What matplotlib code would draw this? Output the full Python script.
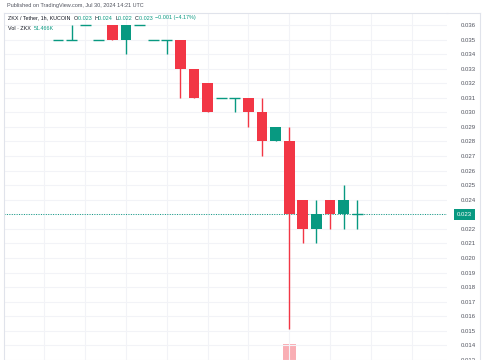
import matplotlib
matplotlib.use('Agg')
import matplotlib.pyplot as plt
from matplotlib.lines import Line2D
import numpy as np

plt.rcParams['font.family'] = ['Liberation Sans', 'DejaVu Sans']

# === Data (ZKX / Tether, 1h, KUCOIN) ===
opens  = [0.035, 0.035, 0.036, 0.035, 0.036, 0.035, 0.036, 0.035, 0.035, 0.035, 0.033, 0.032,
          0.031, 0.031, 0.031, 0.030, 0.028, 0.028, 0.024, 0.022, 0.024, 0.023, 0.023]
highs  = [0.035, 0.036, 0.036, 0.035, 0.036, 0.036, 0.036, 0.035, 0.035, 0.035, 0.033, 0.032,
          0.031, 0.031, 0.031, 0.031, 0.029, 0.029, 0.024, 0.024, 0.024, 0.025, 0.024]
lows   = [0.035, 0.035, 0.036, 0.035, 0.035, 0.034, 0.036, 0.035, 0.034, 0.031, 0.031, 0.030,
          0.031, 0.030, 0.029, 0.027, 0.028, 0.0151, 0.021, 0.021, 0.022, 0.022, 0.022]
closes = [0.035, 0.035, 0.036, 0.035, 0.035, 0.036, 0.036, 0.035, 0.035, 0.033, 0.031, 0.030,
          0.031, 0.031, 0.030, 0.028, 0.029, 0.023, 0.022, 0.023, 0.023, 0.024, 0.023]
volumes = [0, 0, 0, 0, 0, 0, 0, 0, 0, 0, 0, 0,
           0, 0, 0, 0, 0, 2400000, 0, 0, 0, 0, 51466]
price_ticks = [round(0.013 + 0.001 * i, 3) for i in range(24)]
last_price = 0.023

UP = '#089981'
DOWN = '#f23645'
GRID = '#f2f3f7'
TEXT = '#131722'

W, H = 485, 360
fig = plt.figure(figsize=(W / 100, H / 100), dpi=100)
left, right, top = 4, 447, 13
ax = fig.add_axes([left / W, 0, (right - left) / W, (H - top) / H])
vax = fig.add_axes([left / W, 0, (right - left) / W, (H - top) / H], sharex=ax)
vax.set_zorder(0)
ax.set_zorder(1)
ax.patch.set_visible(False)
vax.axis('off')

x = np.arange(len(opens))

# === Volume ===
vcol = [UP if c >= o else DOWN for o, c in zip(opens, closes)]
vax.bar(x, volumes, width=0.95, color=vcol, alpha=0.4, linewidth=0)
vax.set_ylim(0, max(volumes) * 347 / 16)

# === Candles ===
for i in x:
    o, h, l, c = opens[i], highs[i], lows[i], closes[i]
    col = UP if c >= o else DOWN
    ax.vlines(i, l, h, color=col, linewidth=1, zorder=2)
    body = abs(c - o)
    if body < 1e-9:
        ax.hlines(o, i - 0.4, i + 0.4, color=col, linewidth=1, zorder=3)
    else:
        ax.bar(i, body, bottom=min(o, c), width=0.8, color=col, linewidth=0, zorder=3)

ax.set_xlim(-3.97, 28.6)
ax.set_ylim(0.01305, 0.03682)

# grid
ax.set_xticks(np.arange(-1, 29, 3))
ax.set_yticks(price_ticks)
ax.grid(True, color=GRID, linewidth=0.8)
ax.set_axisbelow(True)
ax.tick_params(axis='x', length=0, labelbottom=False)
ax.yaxis.tick_right()
ax.tick_params(axis='y', length=0, pad=10, labelsize=4.3, labelcolor='#50535e')
ax.set_yticklabels(['' if t == last_price else f'{t:.3f}' for t in price_ticks])
for s in ['bottom', 'right']:
    ax.spines[s].set_visible(False)
for s in ['left', 'top']:
    ax.spines[s].set_color('#e0e3eb')
    ax.spines[s].set_linewidth(0.8)

# last price line + label
ax.axhline(last_price, color=UP, linestyle=(0, (1, 1.5)), linewidth=0.7, zorder=1)
ax.text(1.0225, last_price, f'{last_price:.3f}', transform=ax.get_yaxis_transform(),
        ha='left', va='center', fontsize=4.3, color='white', zorder=5,
        bbox=dict(boxstyle='square,pad=0.45', fc=UP, ec='none'), clip_on=False)

# right border of the price scale
fig.add_artist(Line2D([480 / W, 480 / W], [0, (H - top) / H], transform=fig.transFigure,
                      color='#e0e3eb', linewidth=0.8))
fig.add_artist(Line2D([right / W, 480 / W], [(H - top) / H, (H - top) / H],
                      transform=fig.transFigure, color='#e0e3eb', linewidth=0.8))

# === Header texts ===
fig.text(7 / W, 1 - 5.5 / H, 'Published on TradingView.com, Jul 30, 2024 14:21 UTC',
         fontsize=4.0, color='#50535e', va='center')

y1 = 1 - 18 / H
parts = [('ZKX / Tether, 1h, KUCOIN  ', TEXT), ('O', TEXT), ('0.023  ', UP), ('H', TEXT),
         ('0.024  ', UP), ('L', TEXT), ('0.022  ', UP), ('C', TEXT), ('0.023  ', UP),
         ('\u22120.001 (\u22124.17%)', UP)]
xpos = 8 / W
fig.canvas.draw()
r = fig.canvas.get_renderer()
for s, c in parts:
    t = fig.text(xpos, y1, s, fontsize=3.9, color=c, va='center')
    bb = t.get_window_extent(renderer=r)
    xpos += bb.width / W

y2 = 1 - 28 / H
t = fig.text(8 / W, y2, 'Vol \u00b7 ZKX  ', fontsize=3.9, color=TEXT, va='center')
bb = t.get_window_extent(renderer=r)
fig.text(8 / W + bb.width / W, y2, '51.466K', fontsize=3.9, color=UP, va='center')

plt.savefig('out.png', dpi=100)
